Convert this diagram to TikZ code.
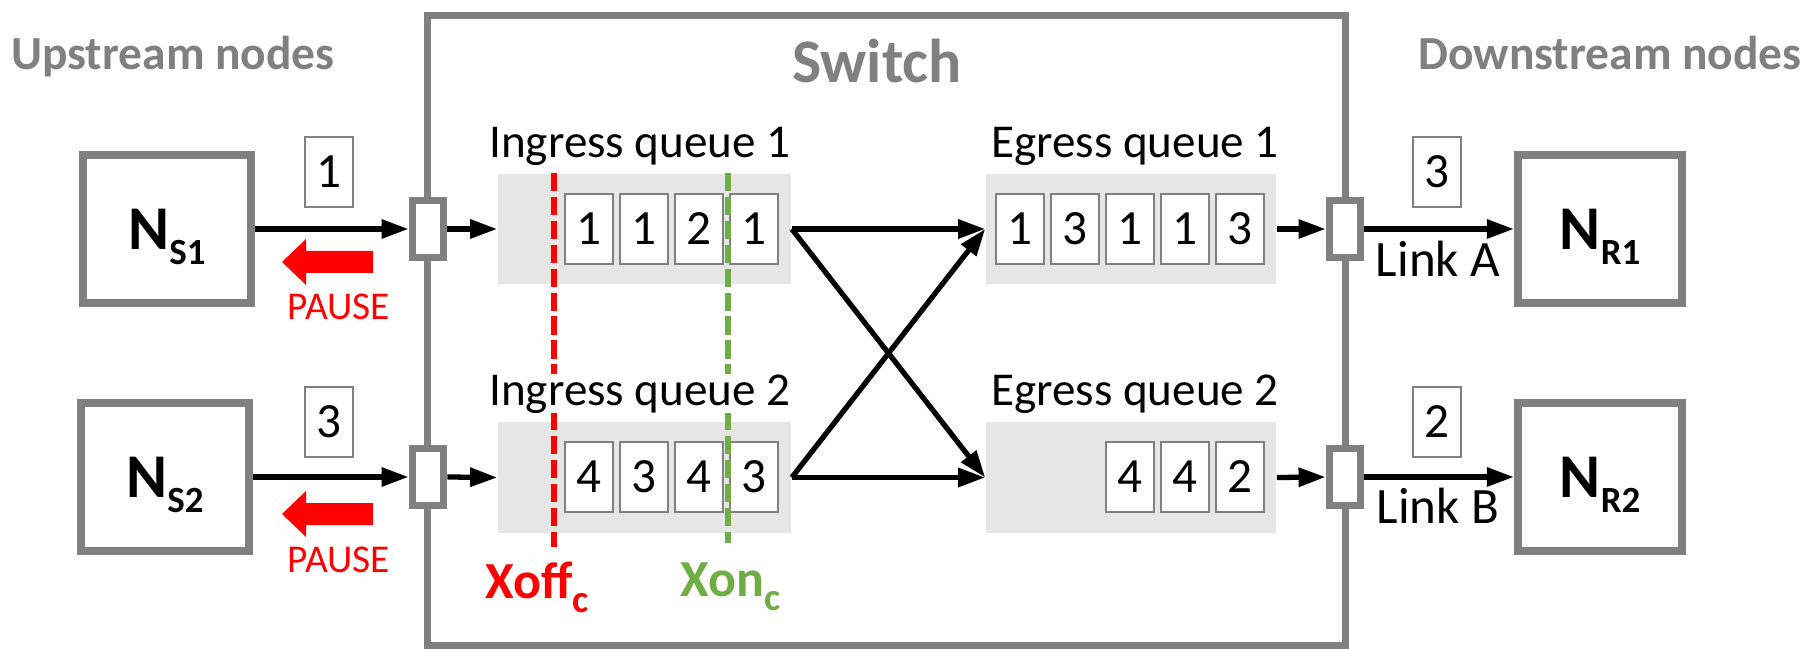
\documentclass[tikz,border=0pt]{standalone}
\usepackage{fontspec}
\setmainfont{Carlito}
\usetikzlibrary{arrows.meta}
\definecolor{boxgray}{RGB}{128,128,128}
\definecolor{qgray}{RGB}{230,230,230}
\definecolor{xongreen}{RGB}{112,173,71}
\newcommand{\hostlab}[1]{N\raisebox{-4.3pt}[0pt][0pt]{\fontsize{10.5}{12}\selectfont #1}}
\newcommand{\thrlab}[1]{#1\raisebox{-4pt}{\fontsize{11}{12}\selectfont c}}

\begin{document}
\begin{tikzpicture}[x = 0.01cm, y = -0.01cm]
    \tikzstyle{host} = [draw = boxgray, line width = 2.3pt, minimum width = 1.68cm, minimum height = 1.48cm, inner sep = 0, font = \fontsize{17.7}{20}\selectfont\bfseries];
    \tikzstyle{port} = [draw = boxgray, fill = white, line width = 2.2pt, minimum width = 0.31cm, minimum height = 0.57cm, inner sep = 0];
    \tikzstyle{queue} = [fill = qgray, minimum width = 2.93cm, minimum height = 1.10cm, inner sep = 0];
    \tikzstyle{pkt} = [draw = boxgray, fill = white, line width = 0.6pt, minimum width = 0.48cm, minimum height = 0.70cm, inner sep = 0, font = \fontsize{14}{16}\selectfont];
    \tikzstyle{lbl} = [anchor = base, inner sep = 0, fill = white, font = \fontsize{13.4}{16}\selectfont];
    \tikzstyle{title} = [anchor = base, inner sep = 0, text = boxgray, font = \fontsize{13.5}{16}\selectfont\bfseries];
    \tikzstyle{pausetxt} = [anchor = base, inner sep = 0, text = red, font = \fontsize{11.2}{13}\selectfont];
    \tikzstyle{arr} = [line width = 1.5pt, -{Triangle[length = 7.7pt, width = 5.2pt]}];
    \useasboundingbox (0,0) rectangle (1813,649);
    % switch:
    \node[draw = boxgray, line width = 2pt, minimum width = 9.17cm, minimum height = 6.29cm] (sw) at (886.5,330.5){};
    \node[title, font = \fontsize{17.6}{20}\selectfont\bfseries] (swlab) at (877,83){Switch};
    \node[title] (uplab) at (173,70){Upstream nodes};
    \node[title] (downlab) at (1610,70){Downstream nodes};
    % hosts:
    \node[host] (ns1) at (167,229){\hostlab{S1}};
    \node[host] (ns2) at (165,477){\hostlab{S2}};
    \node[host, minimum width = 1.64cm] (nr1) at (1600,229){\hostlab{R1}};
    \node[host, minimum width = 1.64cm] (nr2) at (1600,477){\hostlab{R2}};
    % ports:
    \node[port] (pi1) at (428,229){};
    \node[port] (pi2) at (428,477){};
    \node[port] (pe1) at (1345,229){};
    \node[port] (pe2) at (1345,477){};
    % queues:
    \node[queue] (iq1) at (644.5,229){};
    \node[queue] (iq2) at (644.5,477.5){};
    \node[queue, minimum width = 2.90cm] (eq1) at (1131,229){};
    \node[queue, minimum width = 2.90cm] (eq2) at (1131,477.5){};
    % packets:
    \node[pkt] (i11) at (589,229){1};
    \node[pkt] (i12) at (644,229){1};
    \node[pkt] (i13) at (699,229){2};
    \node[pkt] (i14) at (754,229){1};
    \node[pkt] (i21) at (589,477){4};
    \node[pkt] (i22) at (644,477){3};
    \node[pkt] (i23) at (699,477){4};
    \node[pkt] (i24) at (754,477){3};
    \node[pkt] (e11) at (1020,229){1};
    \node[pkt] (e12) at (1075,229){3};
    \node[pkt] (e13) at (1130,229){1};
    \node[pkt] (e14) at (1185,229){1};
    \node[pkt] (e15) at (1240,229){3};
    \node[pkt] (e21) at (1130,477){4};
    \node[pkt] (e22) at (1185,477){4};
    \node[pkt] (e23) at (1240,477){2};
    \node[pkt] (fs1) at (329,172){1};
    \node[pkt] (fs2) at (329,422){3};
    \node[pkt] (fr1) at (1437,172){3};
    \node[pkt] (fr2) at (1437,422){2};
    % thresholds:
    \coordinate (xoffT) at (554,173);
    \coordinate (xoffB) at (554,547);
    \coordinate (xonT) at (728,173);
    \coordinate (xonB) at (728,543);
    \draw[red, line width = 1.5pt, dash pattern = on 5.2pt off 1.6pt] (xoffT) -- (xoffB);
    \draw[xongreen, line width = 1.5pt, dash pattern = on 5.2pt off 1.6pt] (xonT) -- (xonB);
    \node[anchor = base west, inner sep = 0, text = red, font = \fontsize{14.8}{17}\selectfont\bfseries] (xoff) at (485,598){\thrlab{Xoff}};
    \node[anchor = base west, inner sep = 0, text = xongreen, font = \fontsize{14.8}{17}\selectfont\bfseries] (xon) at (680,596){\thrlab{Xon}};
    % queue labels:
    \node[lbl] (iq1lab) at (640,158){Ingress queue 1};
    \node[lbl] (iq2lab) at (640,405){Ingress queue 2};
    \node[lbl] (eq1lab) at (1135,158){Egress queue 1};
    \node[lbl] (eq2lab) at (1135,405){Egress queue 2};
    % links:
    \draw[arr] (ns1.east) -- (pi1.west);
    \draw[arr] (ns2.east) -- (pi2.west);
    \draw[arr] (pi1.east) -- (iq1.west);
    \draw[arr] (pi2.east) -- (iq2.west);
    \draw[arr] (iq1.east) -- (eq1.west);
    \draw[arr] (iq1.east) -- (eq2.west);
    \draw[arr] (iq2.east) -- (eq2.west);
    \draw[arr] (iq2.east) -- (eq1.west);
    \draw[arr] (eq1.east) -- (pe1.west);
    \draw[arr] (eq2.east) -- (pe2.west);
    \draw[arr] (pe1.east) -- (nr1.west);
    \draw[arr] (pe2.east) -- (nr2.west);
    \node[lbl, font = \fontsize{14.5}{17}\selectfont] (linka) at (1438,277){Link A};
    \node[lbl, font = \fontsize{14.5}{17}\selectfont] (linkb) at (1438,523){Link B};
    % pause:
    \fill[red] (373,251) -- (306,251) -- (306,239) -- (282,262) -- (306,285) -- (306,273) -- (373,273) -- cycle;
    \fill[red] (373,503) -- (306,503) -- (306,491) -- (282,514) -- (306,537) -- (306,525) -- (373,525) -- cycle;
    \node[pausetxt] (pause1) at (339,320){PAUSE};
    \node[pausetxt] (pause2) at (339,572){PAUSE};
\end{tikzpicture}
\end{document}
